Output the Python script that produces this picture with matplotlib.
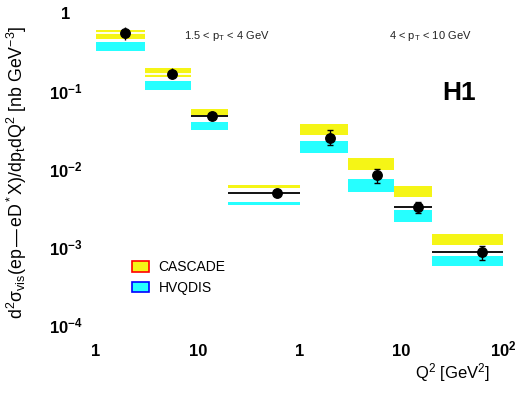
import numpy as np
import matplotlib
matplotlib.use('Agg')
import matplotlib.pyplot as plt
from matplotlib.patches import Patch
from matplotlib.ticker import NullLocator

plt.rcParams['font.family'] = ['Liberation Sans', 'DejaVu Sans']
plt.rcParams['mathtext.fontset'] = 'custom'
plt.rcParams['mathtext.rm'] = 'Liberation Sans'
plt.rcParams['mathtext.it'] = 'Liberation Sans:italic'
plt.rcParams['mathtext.bf'] = 'Liberation Sans:bold'
plt.rcParams['mathtext.default'] = 'regular'

# Q2 bin edges, same for both pT ranges
q2_edges = [1, 3, 8.5, 20, 100]

# 1.5 < pT < 4 GeV
low_q2 = [1.93, 5.6, 13.8, 60]
low_data = [0.554, 0.167, 0.0478, 0.00493]
low_up = [0.662, 0.199, 0.053, 0.0055]
low_dn = [0.451, 0.147, 0.043, 0.0044]
low_cas_hi = [0.605, 0.199, 0.0588, 0.00624]
low_cas_lo = [0.464, 0.151, 0.0492, 0.00576]
low_hvq_hi = [0.425, 0.134, 0.0401, 0.00378]
low_hvq_lo = [0.326, 0.104, 0.0316, 0.00349]

# 4 < pT < 10 GeV
high_q2 = [2.0, 5.8, 14.5, 62]
high_data = [0.0252, 0.00838, 0.00326, 0.000863]
high_up = [0.0316, 0.0100, 0.00378, 0.00103]
high_dn = [0.0203, 0.00662, 0.00273, 0.00068]
high_cas_hi = [0.0378, 0.0138, 0.00605, 0.00147]
high_cas_lo = [0.0273, 0.0097, 0.00438, 0.00106]
high_hvq_hi = [0.0229, 0.00745, 0.00298, 0.000767]
high_hvq_lo = [0.0162, 0.00507, 0.00209, 0.00057]

xtick_labels = ['1', '10', '1', '10', r'$\mathbf{10^{2}}$']
ytick_labels = ['1', r'$\mathbf{10^{-1}}$', r'$\mathbf{10^{-2}}$',
                r'$\mathbf{10^{-3}}$', r'$\mathbf{10^{-4}}$']

YELLOW = '#f5f516'
CYAN = '#26ffff'

fig = plt.figure(figsize=(5.27, 3.93), dpi=100)
ax = fig.add_axes([96 / 527, 1 - 337 / 393, 407 / 527, 333 / 393])
ax.set_xscale('log')
ax.set_yscale('log')
ax.set_xlim(1, 1e4)
ax.set_ylim(10 ** -4.154, 10 ** 0.115)

panels = [
    (1, low_q2, low_data, low_up, low_dn, low_cas_hi, low_cas_lo,
     low_hvq_hi, low_hvq_lo, ['white', 'white', 'black', 'black'], 0),
    (100, high_q2, high_data, high_up, high_dn, high_cas_hi, high_cas_lo,
     high_hvq_hi, high_hvq_lo, ['white', 'white', 'black', 'black'], 2.5),
]

for shift, q2, data, up, dn, cas_hi, cas_lo, hvq_hi, hvq_lo, lcols, cap in panels:
    edges = np.array(q2_edges) * shift
    lo_e = edges[:-1]
    w = edges[1:] - edges[:-1]
    cas_hi, cas_lo = np.array(cas_hi), np.array(cas_lo)
    hvq_hi, hvq_lo = np.array(hvq_hi), np.array(hvq_lo)
    ax.bar(lo_e, cas_hi - cas_lo, width=w, bottom=cas_lo, align='edge',
           color=YELLOW, linewidth=0, zorder=1)
    ax.bar(lo_e, hvq_hi - hvq_lo, width=w, bottom=hvq_lo, align='edge',
           color=CYAN, linewidth=0, zorder=1)
    data = np.array(data)
    ax.hlines(data, edges[:-1], edges[1:], colors=lcols, linewidth=1.3, zorder=2)
    yerr = [data - np.array(dn), np.array(up) - data]
    ax.errorbar(np.array(q2) * shift, data, yerr=yerr, fmt='o', color='black',
                ms=6.8, elinewidth=1.0, capsize=cap, capthick=1.0, zorder=3)

ax.set_xticks([1, 10, 100, 1000, 10000])
ax.set_xticklabels(xtick_labels, fontsize=12, fontweight='bold')
ax.set_yticks([1, 0.1, 0.01, 0.001, 0.0001])
ax.set_yticklabels(ytick_labels, fontsize=12, fontweight='bold')
ax.xaxis.set_minor_locator(NullLocator())
ax.yaxis.set_minor_locator(NullLocator())
ax.tick_params(axis='both', length=0)
ax.tick_params(axis='y', pad=22)
ax.tick_params(axis='x', pad=14)
for lab in ax.get_yticklabels():
    lab.set_ha('center')
for lab in ax.get_xticklabels():
    lab.set_va('baseline')
for s in ax.spines.values():
    s.set_visible(False)

ax.text(0.215, 0.905, r'1.5 < p$_T$ < 4 GeV', transform=ax.transAxes,
        fontsize=8, color='#222222', va='center', ha='left')
ax.text(0.72, 0.905, r'4 < p$_T$ < 10 GeV', transform=ax.transAxes,
        fontsize=8, color='#222222', va='center', ha='left')
fig.text(459.5 / 527, 1 - 92.5 / 393, 'H1', fontsize=19, fontweight='bold',
         ha='center', va='center')

fig.text(17 / 527, 1 - 172 / 393,
         r'd$^2\sigma_{vis}$(ep$\,$—$\,$eD$^*$X)/dp$_t$dQ$^2$ [nb GeV$^{-3}$]',
         rotation=90, fontsize=12.8, ha='center', va='center')
fig.text(490 / 527, 1 - 373 / 393, r'Q$^2$ [GeV$^2$]', fontsize=12,
         ha='right', va='center')

handles = [Patch(facecolor=YELLOW, edgecolor='red', linewidth=1.2, label='CASCADE'),
           Patch(facecolor=CYAN, edgecolor='blue', linewidth=1.2, label='HVQDIS')]
ax.legend(handles=handles, loc='upper left', bbox_to_anchor=(0.075, 0.247),
          frameon=False, fontsize=10, handlelength=1.2, handleheight=0.75,
          handletextpad=0.7, labelspacing=0.5, borderaxespad=0)

fig.savefig('out.png', dpi=100)
